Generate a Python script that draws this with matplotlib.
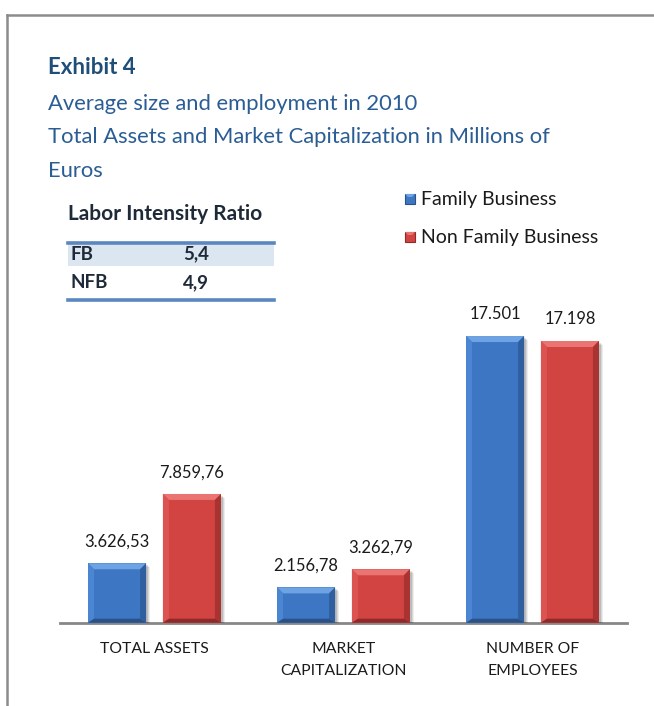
import matplotlib
matplotlib.use("Agg")
import matplotlib.pyplot as plt
from matplotlib.patches import Polygon, Rectangle
from matplotlib.lines import Line2D

plt.rcParams['font.family'] = ['Lato', 'DejaVu Sans']

# ---- data ----
categories = ["TOTAL ASSETS", "MARKET\nCAPITALIZATION", "NUMBER OF\nEMPLOYEES"]
series_names = ["Family Business", "Non Family Business"]
family_values = [3626.53, 2156.78, 17501]
non_family_values = [7859.76, 3262.79, 17198]
family_labels = ["3.626,53", "2.156,78", "17.501"]
non_family_labels = ["7.859,76", "3.262,79", "17.198"]
ratio_rows = ["FB", "NFB"]
ratio_values = ["5,4", "4,9"]

W, H = 654, 706
fig = plt.figure(figsize=(W / 100, H / 100), dpi=100)
fig.patch.set_facecolor("white")


def fx(px):
    return px / W


def fy(py):
    return 1 - py / H


# outer frame (top and left edges visible)
fig.add_artist(Line2D([fx(7), fx(654)], [fy(15), fy(15)], color="#8c8c8c", lw=1.8))
fig.add_artist(Line2D([fx(7), fx(7)], [fy(15), fy(706)], color="#8c8c8c", lw=1.8))

# headings
navy = "#1f4e79"
sub = "#2b5d95"
fig.text(fx(48), fy(67), "Exhibit 4", fontsize=16, fontweight="bold", color=navy, va="center")
fig.text(fx(48), fy(104), "Average size and employment in 2010", fontsize=15.8, color=sub, va="center")
fig.text(fx(48), fy(137), "Total Assets and Market Capitalization in Millions of", fontsize=15.8,
         color=sub, va="center")
fig.text(fx(48), fy(171), "Euros", fontsize=15.8, color=sub, va="center")

# ---- bar chart ----
ax_left, ax_right, ax_bottom, ax_top = 60, 627, 622.7, 295.1
ax = fig.add_axes([fx(ax_left), fy(ax_bottom), (ax_right - ax_left) / W, (ax_bottom - ax_top) / H])
ax.set_xlim(-0.5, len(categories) - 0.5)
ax.set_ylim(0, 20000)
ax.set_facecolor("none")
for s in ["top", "right", "left"]:
    ax.spines[s].set_visible(False)
ax.spines["bottom"].set_color("#878787")
ax.spines["bottom"].set_linewidth(2)
ax.spines["bottom"].set_zorder(1)
ax.set_yticks([])
ax.set_xticks(range(len(categories)))
ax.set_xticklabels(categories, fontsize=11.3, color="#1a1a1a", linespacing=1.75)
ax.tick_params(axis="x", length=0, pad=14)

bar_w = 0.307
offset = 0.198

blue = dict(face="#3d76c2", top="#6ea3e3", left="#4a86d2", right="#2f5f9e", bottom="#2b5288")
red = dict(face="#d24442", top="#ea7472", left="#dc5452", right="#a83331", bottom="#8e2a29")

fam_bars = ax.bar([i - offset for i in range(3)], family_values, width=bar_w,
                  color=blue["face"], zorder=3)
nfam_bars = ax.bar([i + offset for i in range(3)], non_family_values, width=bar_w,
                   color=red["face"], zorder=3)

inv = ax.transData.inverted()


def bevel(rect, pal, b=6, bb=4):
    x0, y0 = rect.get_x(), rect.get_y()
    x1, y1 = x0 + rect.get_width(), y0 + rect.get_height()
    (X0, Y0), (X1, Y1) = ax.transData.transform([(x0, y0), (x1, y1)])
    # soft drop shadow
    for k, a in [(4, 0.07), (3, 0.09), (2, 0.12)]:
        pts = inv.transform([(X0 + k, Y0 - k), (X1 + k, Y0 - k), (X1 + k, Y1 - k), (X0 + k, Y1 - k)])
        ax.add_patch(Polygon(pts, closed=True, fc="black", ec="none", alpha=a, zorder=2))
    polys = {
        "top": [(X0, Y1), (X1, Y1), (X1 - b, Y1 - b), (X0 + b, Y1 - b)],
        "left": [(X0, Y0), (X0, Y1), (X0 + b, Y1 - b), (X0 + b, Y0 + bb)],
        "right": [(X1, Y0), (X1, Y1), (X1 - b, Y1 - b), (X1 - b, Y0 + bb)],
        "bottom": [(X0, Y0), (X1, Y0), (X1 - b, Y0 + bb), (X0 + b, Y0 + bb)],
    }
    for key, pts in polys.items():
        ax.add_patch(Polygon(inv.transform(pts), closed=True, fc=pal[key], ec="none", zorder=4))


for r in fam_bars:
    bevel(r, blue)
for r in nfam_bars:
    bevel(r, red)

for bars, labels in [(fam_bars, family_labels), (nfam_bars, non_family_labels)]:
    for r, lab in zip(bars, labels):
        ax.annotate(lab, (r.get_x() + r.get_width() / 2, r.get_height()), xytext=(0, 12),
                    textcoords="offset points", ha="center", va="baseline", fontsize=11.9,
                    color="#1a1a1a", zorder=5)

# ---- legend ----
legend_y = [199, 237]
for name, pal, yy in zip(series_names, [blue, red], legend_y):
    s = 10
    x0, y0 = 405, yy - s / 2
    fig.add_artist(Rectangle((fx(x0), fy(y0 + s)), s / W, s / H, fc=pal["face"], ec=pal["bottom"],
                             lw=0.8, transform=fig.transFigure))
    fig.add_artist(Polygon([(fx(x0), fy(y0)), (fx(x0 + s), fy(y0)), (fx(x0 + s - 3), fy(y0 + 3)),
                            (fx(x0 + 3), fy(y0 + 3))], closed=True, fc=pal["top"], ec="none",
                           transform=fig.transFigure))
    fig.text(fx(421), fy(yy), name, fontsize=14, color="#1a1a1a", va="center")

# ---- labor intensity table ----
tx0, tx1 = 68, 274
fig.text(fx(68), fy(214), "Labor Intensity Ratio", fontsize=15, fontweight="bold",
         color="#1f2a38", va="center")
fig.add_artist(Rectangle((fx(tx0), fy(266)), (tx1 - tx0) / W, 22 / H, fc="#dce6f1", ec="none",
                         transform=fig.transFigure))
for yy in (243, 300):
    fig.add_artist(Line2D([fx(tx0), fx(tx1)], [fy(yy), fy(yy)], color="#5b87c0", lw=2.6))
for name, val, yy in zip(ratio_rows, ratio_values, [254, 283]):
    fig.text(fx(70), fy(yy), name, fontsize=13.5, fontweight="bold", color="#1f2a38", va="center")
    fig.text(fx(183), fy(yy), val, fontsize=13.5, fontweight="bold", color="#1f2a38", va="center")

fig.savefig("out.png", dpi=100, facecolor="white")
